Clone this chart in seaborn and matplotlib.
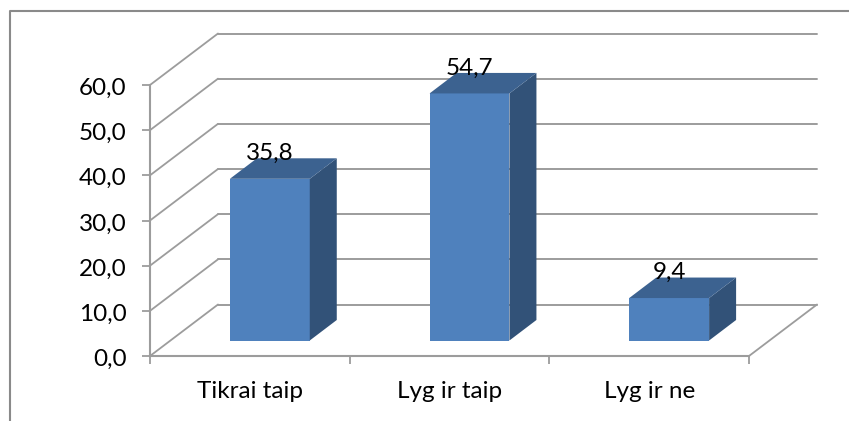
import matplotlib
matplotlib.use("Agg")
import matplotlib.pyplot as plt
import matplotlib.transforms as mtrans
from matplotlib.lines import Line2D
import seaborn as sns

categories = ["Tikrai taip", "Lyg ir taip", "Lyg ir ne"]
values = [35.8, 54.7, 9.4]
value_labels = ["35,8", "54,7", "9,4"]
y_ticks = [0, 10, 20, 30, 40, 50, 60]
y_tick_labels = ["0,0", "10,0", "20,0", "30,0", "40,0", "50,0", "60,0"]

W, H = 849, 421
FRONT, TOP, SIDE = "#4F81BD", "#3C6290", "#325278"
GRID, FRAME = "#9C9C9C", "#8A8A8A"

sns.set_theme(style="white")
plt.rcParams["font.family"] = ["Lato", "DejaVu Sans"]
FS = 17.5

fig = plt.figure(figsize=(W / 100, H / 100), dpi=100, facecolor="white")
ax = fig.add_axes([150 / W, (H - 356) / H, (749 - 150) / W, 271 / H])

sns.barplot(x=categories, y=values, width=0.4, color=FRONT, saturation=1, ax=ax, zorder=3)
ax.set_xlim(-0.5, 2.5)
ax.set_ylim(0, 60)

# pixel-to-data helpers
px_x, px_y = 3 / 599, 60 / 271
bar_tr = ax.transData + mtrans.ScaledTranslation(20 / 100, 15.5 / 100, fig.dpi_scale_trans)
back_dx, back_dy = 68 * px_x, 51.5 * px_y
bar_dx, bar_dy = 27 * px_x, 20.5 * px_y

# walls and floor
for v in y_ticks:
    ax.plot([-0.5, -0.5 + back_dx], [v, v + back_dy], color=GRID, lw=1.3, clip_on=False, zorder=1,
            solid_capstyle="round")
    ax.plot([-0.5 + back_dx, 2.5 + back_dx], [v + back_dy] * 2, color=GRID, lw=1.4, clip_on=False, zorder=1)
ax.plot([2.5, 2.5 + back_dx], [0, back_dy], color=GRID, lw=1.3, clip_on=False, zorder=1)

# bars: front from seaborn, side and top faces from each bar's geometry
for patch, label, v in zip(list(ax.patches), value_labels, values):
    patch.set_transform(bar_tr)
    patch.set_clip_on(False)
    patch.set_linewidth(0)
    x0, x1 = patch.get_x(), patch.get_x() + patch.get_width()
    ax.fill([x1, x1 + bar_dx, x1 + bar_dx, x1], [0, bar_dy, v + bar_dy, v], color=SIDE, lw=0,
            transform=bar_tr, clip_on=False, zorder=3)
    ax.fill([x0, x1, x1 + bar_dx, x0 + bar_dx], [v, v, v + bar_dy, v + bar_dy], color=TOP, lw=0,
            transform=bar_tr, clip_on=False, zorder=3)
    ax.annotate(label, xy=((x0 + x1) / 2, v), xycoords=bar_tr, xytext=(0, 19 * 0.72), textcoords="offset points",
                ha="center", va="baseline", fontsize=FS, color="black", zorder=5, annotation_clip=False)

# axes
sns.despine(ax=ax, top=True, right=True)
for s in ("left", "bottom"):
    ax.spines[s].set_color(GRID)
    ax.spines[s].set_linewidth(1.5)
ax.set_yticks(y_ticks, y_tick_labels)
ax.set_xticks([-0.5, 0.5, 1.5, 2.5], ["", "", "", ""])
ax.set_xticks([0, 1, 2], categories, minor=True)
ax.tick_params(axis="y", length=5.8, width=1.3, color=GRID, pad=11, labelsize=FS, left=True, labelcolor="black")
ax.tick_params(axis="x", which="major", length=5.8, width=1.3, color=GRID, bottom=True)
ax.tick_params(axis="x", which="minor", length=0, pad=17.7, labelsize=FS, labelcolor="black")
ax.set_xlabel("")

# the reference's value-axis labels sit slightly below their ticks
label_nudge = mtrans.ScaledTranslation(0, -1.5 / 100, fig.dpi_scale_trans)
for lab in ax.get_yticklabels():
    lab.set_transform(lab.get_transform() + label_nudge)

# chart frame, running off the right and bottom of the picture
fig.add_artist(Line2D([9.5 / W, 9.5 / W, 1], [0, (H - 11) / H, (H - 11) / H], color=FRAME, lw=1.5))

fig.savefig("out.png", dpi=100)
